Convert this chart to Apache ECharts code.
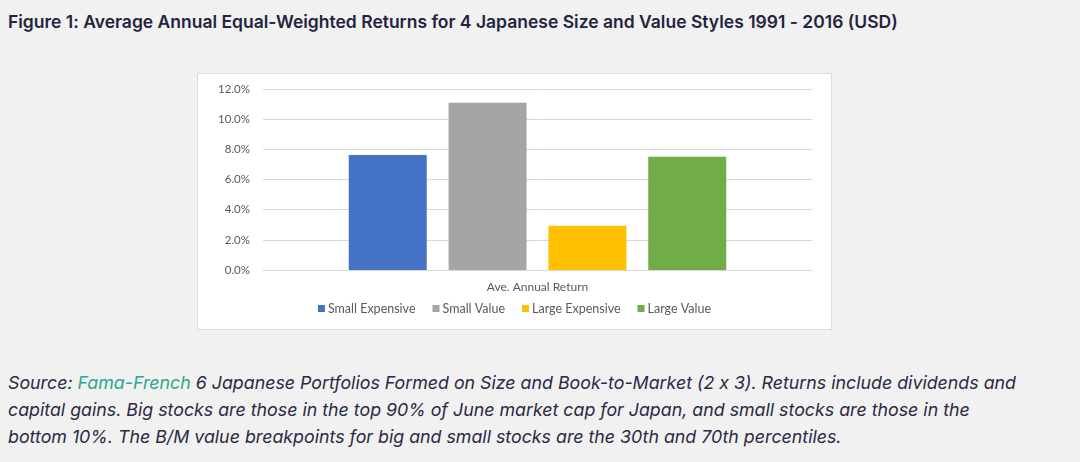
<!DOCTYPE html>
<html>
<head>
<meta charset="utf-8">
<script src="https://cdn.jsdelivr.net/npm/echarts@6/dist/echarts.min.js"></script>
<style>
  html, body { margin: 0; padding: 0; background: #f1f1f1; width: 1080px; height: 462px; overflow: hidden; }
  #title { position: absolute; left: 8px; top: 11px; font-family: Inter, "Noto Sans", sans-serif; font-weight: 600; font-size: 17.5px; color: #24243e; white-space: nowrap; font-feature-settings: "calt" 0; }
  #box { position: absolute; left: 197px; top: 73px; width: 633px; height: 255px; background: #fff; border: 1px solid #dcdcdc; }
  #chart { width: 633px; height: 255px; }
  #source { position: absolute; left: 8px; top: 369px; font-family: Inter, "Noto Sans", sans-serif; font-style: italic; font-size: 17.8px; line-height: 27px; color: #2a2a44; white-space: nowrap; font-feature-settings: "calt" 0; }
  #source .link { color: #2aa88e; }
</style>
</head>
<body>
<div id="title">Figure 1: Average Annual Equal-Weighted Returns for 4 Japanese Size and Value Styles 1991 - 2016 (USD)</div>
<div id="box"><div id="chart"></div></div>
<div id="source">Source: <span class="link">Fama-French</span> 6 Japanese Portfolios Formed on Size and Book-to-Market (2 x 3). Returns include dividends and<br>capital gains. Big stocks are those in the top 90% of June market cap for Japan, and small stocks are those in the<br>bottom 10%. The B/M value breakpoints for big and small stocks are the 30th and 70th percentiles.</div>
<script>
const categories = ['Ave. Annual Return'];
const seriesNames = ['Small Expensive', 'Small Value', 'Large Expensive', 'Large Value'];
const smallExpensive = [7.62];
const smallValue = [11.09];
const largeExpensive = [2.93];
const largeValue = [7.51];
const seriesColors = ['#4472C4', '#A5A5A5', '#FFC000', '#70AD47'];

const seriesData = [smallExpensive, smallValue, largeExpensive, largeValue];
const chart = echarts.init(document.getElementById('chart'));
chart.setOption({
  animation: false,
  textStyle: { fontFamily: 'Lato, "Open Sans", sans-serif' },
  grid: { left: 65, right: 19, top: 15, bottom: 59 },
  legend: {
    data: seriesNames,
    bottom: 9,
    left: 'center',
    icon: 'rect',
    itemWidth: 7,
    itemHeight: 7,
    itemGap: 17,
    textStyle: { color: '#595959', fontSize: 12.5, padding: [0, 0, 0, -2], fontFamily: 'Lato, "Open Sans", sans-serif' }
  },
  xAxis: {
    type: 'category',
    data: categories,
    axisLine: { lineStyle: { color: '#d9d9d9' } },
    axisTick: { show: false },
    axisLabel: { color: '#595959', fontSize: 12, margin: 11 }
  },
  yAxis: {
    type: 'value',
    min: 0,
    max: 12,
    interval: 2,
    axisLine: { show: false },
    axisTick: { show: false },
    axisLabel: { color: '#595959', fontSize: 11.5, margin: 13, formatter: v => v.toFixed(1) + '%' },
    splitLine: { lineStyle: { color: '#d9d9d9' } }
  },
  series: seriesNames.map((name, i) => ({
    name: name,
    type: 'bar',
    data: seriesData[i],
    barWidth: 78,
    barGap: '28%',
    itemStyle: { color: seriesColors[i] }
  }))
});
</script>
</body>
</html>
